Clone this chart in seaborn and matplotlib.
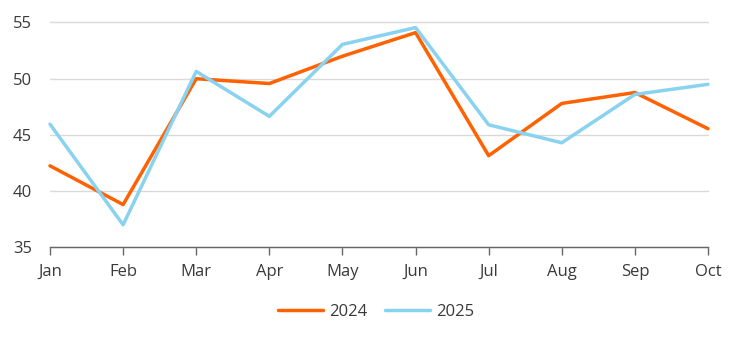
import numpy as np
import pandas as pd
import matplotlib
matplotlib.use("Agg")
import matplotlib.pyplot as plt
import seaborn as sns
from matplotlib.lines import Line2D

months = ["Jan", "Feb", "Mar", "Apr", "May", "Jun", "Jul", "Aug", "Sep", "Oct"]
values_2024 = [42.25, 38.8, 50.0, 49.57, 52.0, 54.1, 43.15, 47.8, 48.77, 45.55]
values_2025 = [45.95, 37.0, 50.65, 46.65, 53.05, 54.55, 45.9, 44.3, 48.6, 49.5]
series_names = ["2024", "2025"]
colors = {"2024": "#FF6200", "2025": "#89D2F0"}
y_ticks = [35, 40, 45, 50, 55]

df = pd.DataFrame({
    "month": months * 2,
    "x": list(range(len(months))) * 2,
    "value": values_2024 + values_2025,
    "year": ["2024"] * len(months) + ["2025"] * len(months),
})

sns.set_theme(style="white")
plt.rcParams["font.family"] = ["Open Sans", "DejaVu Sans"]
text_color = "#3a3a3a"

fig = plt.figure(figsize=(7.44, 3.43), dpi=100)
ax = fig.add_axes([50 / 744, 1 - 247.3 / 343, 658 / 744, 224.8 / 343])

sns.lineplot(data=df, x="x", y="value", hue="year", hue_order=series_names,
             palette=colors, linewidth=2.5, ax=ax, legend=False, clip_on=False)

ax.set_xlim(0, len(months) - 1)
ax.set_ylim(35, 55)
ax.set_yticks(y_ticks)
ax.set_xticks(range(len(months)))
ax.set_xticklabels(months)
ax.set_xlabel("")
ax.set_ylabel("")
ax.yaxis.grid(True, color="#D9D9D9", linewidth=1)
for gl in ax.get_ygridlines():
    gl.set_clip_on(False)
ax.set_axisbelow(True)
for s in ["left", "right", "top"]:
    ax.spines[s].set_visible(False)
ax.spines["bottom"].set_color("#666666")
ax.spines["bottom"].set_linewidth(1)
ax.tick_params(axis="x", length=6, width=1, color="#666666", pad=6,
               labelsize=12, labelcolor=text_color, bottom=True)
ax.tick_params(axis="y", length=0, pad=13, labelsize=12, labelcolor=text_color)

handles = [Line2D([0], [0], color=colors[n], linewidth=2.5) for n in series_names]
fig.legend(handles, series_names, loc="center", bbox_to_anchor=(376 / 744, 1 - 312 / 343),
           ncol=2, frameon=False, fontsize=12, handlelength=2.7, handletextpad=0.35,
           columnspacing=1.1, labelcolor=text_color)

fig.savefig("out.png", dpi=100)
